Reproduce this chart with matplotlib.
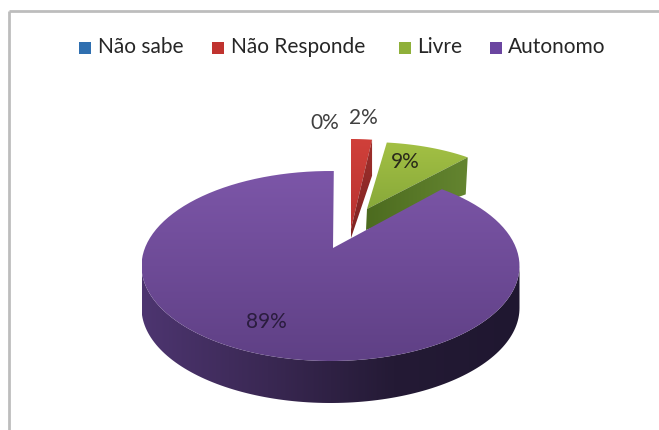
import numpy as np
import matplotlib
matplotlib.use("Agg")
import matplotlib.pyplot as plt
from matplotlib.colors import LinearSegmentedColormap
from matplotlib.patches import Polygon

categories = ['Não sabe', 'Não Responde', 'Livre', 'Autonomo']
values = [0, 2, 9, 89]

plt.rcParams['font.family'] = ['Lato', 'DejaVu Sans']

fig = plt.figure(figsize=(6.59, 4.30), dpi=100)
ax = fig.add_axes([0, 0, 1, 1])
ax.set_xlim(0, 659)
ax.set_ylim(430, 0)
ax.axis('off')


def arc(t0, t1, c, rx, ry, dy=0, n=120):
    t = np.radians(np.linspace(t0, t1, n))
    return np.column_stack([c[0] + rx * np.sin(t), c[1] - ry * np.cos(t) + dy])


def fill(points, colors, horizontal=False, z=2):
    # gradient image clipped to the polygon
    p = Polygon(points, closed=True, fc='none', ec='none', transform=ax.transData)
    ax.add_patch(p)
    x0, y0 = points.min(axis=0)
    x1, y1 = points.max(axis=0)
    cmap = LinearSegmentedColormap.from_list('g', colors)
    g = np.linspace(0, 1, 256)
    g = g[None, :] if horizontal else g[:, None]
    im = ax.imshow(g, cmap=cmap, extent=(x0, x1, y1, y0), aspect='auto', zorder=z, origin='upper')
    im.set_clip_path(p)
    ax.set_xlim(0, 659)
    ax.set_ylim(430, 0)


# slice angles come from the values (clockwise from the top)
angles = np.cumsum([0] + values) * 3.6

# red slice
c = (351, 229)
edge = arc(angles[1], angles[2], c, 168, 90)
wall = np.array([c, edge[-1], edge[-1] + [0, 36], [c[0], c[1] + 9]])
fill(np.vstack([[c], edge]), ['#d0403a', '#b83330'], z=2)
fill(wall, ['#a02f2c', '#7f2422'], z=2.1)

# green slice
c = (367, 209)
edge = arc(angles[2], angles[3], c, 158, 67)
wall = np.array([c, edge[-1], edge[-1] + [-2, 37], [c[0] - 1, c[1] + 21]])
fill(np.vstack([[c], edge]), ['#a3c044', '#88a93a'], z=2.2)
fill(wall, ['#4c6b1f', '#648530'], horizontal=True, z=2.3)

# purple slice, small angle tweaks for the perspective of the original
c = (330.5, 266)
rx, ry, depth = 189, 95, 42
apex = (333, 248)
low = arc(90, 270, c, rx, ry)
side = np.vstack([low, (low + [0, depth])[::-1]])
fill(side, ['#4d3570', '#3a2853', '#241a35', '#1f1730'], horizontal=True, z=3)
top = np.vstack([[apex], arc(angles[3] - 3.5, angles[4] + 1, c, rx, ry)])
fill(top, ['#7c56a8', '#6e4b97', '#5f4085'], z=4)

# chart frame
ax.plot([9, 9], [430, 11], color='#bdbdbd', lw=2, zorder=1, solid_capstyle='butt')
ax.plot([9, 659], [11, 11], color='#bdbdbd', lw=2, zorder=1, solid_capstyle='butt')

# legend
swatches = ['#2f6fb0', '#c0332f', '#8fb03a', '#6b45a0']
swatch_x = [85, 218, 405, 496]
text_x = [98, 231, 417, 508]
for name, col, sx, tx in zip(categories, swatches, swatch_x, text_x):
    ax.scatter([sx], [48], marker='s', s=72, color=col, zorder=5, linewidths=0)
    ax.text(tx, 47, name, fontsize=15, va='center', ha='left', color='#262626', zorder=5)

# value labels
label_pos = [(325, 123), (363, 118), (405, 162), (266, 322)]
label_col = ['#404040', '#404040', '#2a2a1a', '#2a1c3e']
for v, pos, col in zip(values, label_pos, label_col):
    ax.text(pos[0], pos[1], f'{v}%', fontsize=15, ha='center', va='center', color=col, zorder=6)

fig.savefig('out.png', dpi=100)
